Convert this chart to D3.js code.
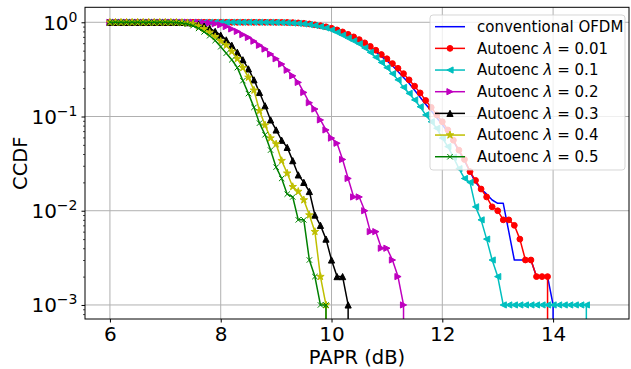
<!DOCTYPE html>
<html>
<head>
<meta charset="utf-8">
<script src="https://cdn.jsdelivr.net/npm/d3@7"></script>
<style>
    html, body { margin: 0; padding: 0; background: #fff; }
    svg { display: block; font-family: "DejaVu Sans", sans-serif; }
</style>
</head>
<body>
<svg id="chart"></svg>
<script>
// PAPR grid (dB), one sample every 0.1 dB
const papr = [
    6.0, 6.1, 6.2, 6.3, 6.4, 6.5, 6.6, 6.7, 6.8, 6.9,
    7.0, 7.1, 7.2, 7.3, 7.4, 7.5, 7.6, 7.7, 7.8, 7.9,
    8.0, 8.1, 8.2, 8.3, 8.4, 8.5, 8.6, 8.7, 8.8, 8.9,
    9.0, 9.1, 9.2, 9.3, 9.4, 9.5, 9.6, 9.7, 9.8, 9.9,
    10.0, 10.1, 10.2, 10.3, 10.4, 10.5, 10.6, 10.7, 10.8, 10.9,
    11.0, 11.1, 11.2, 11.3, 11.4, 11.5, 11.6, 11.7, 11.8, 11.9,
    12.0, 12.1, 12.2, 12.3, 12.4, 12.5, 12.6, 12.7, 12.8, 12.9,
    13.0, 13.1, 13.2, 13.3, 13.4, 13.5, 13.6, 13.7, 13.8, 13.9,
    14.0, 14.1, 14.2, 14.3, 14.4, 14.5, 14.6, 14.7
]

// CCDF values, starting at 6.0 dB; a trailing 0 means the curve drops off the log axis
const ccdfOfdm = [
    1, 1, 1, 1, 1, 1, 1, 1, 1, 1,
    1, 1, 1, 1, 1, 1, 1, 1, 1, 1,
    1, 1, 1, 1, 1, 1, 1, 1, 1, 0.999,
    0.998, 0.996, 0.993, 0.988, 0.98, 0.97, 0.955, 0.935, 0.91, 0.88,
    0.85, 0.81, 0.77, 0.725, 0.68, 0.635, 0.585, 0.535, 0.485, 0.435,
    0.39, 0.345, 0.30, 0.26, 0.225, 0.19, 0.16, 0.135, 0.115, 0.097,
    0.082, 0.068, 0.055, 0.043, 0.034, 0.026, 0.020, 0.017, 0.015, 0.013,
    0.012, 0.012, 0.006, 0.003, 0.003, 0.003, 0.003, 0.002, 0.002, 0.002,
    0.001, 0
]
const ccdfL001 = [
    1, 1, 1, 1, 1, 1, 1, 1, 1, 1,
    1, 1, 1, 1, 1, 1, 1, 1, 1, 1,
    1, 1, 1, 1, 1, 1, 1, 1, 1, 1,
    0.999, 0.998, 0.996, 0.992, 0.985, 0.975, 0.96, 0.94, 0.92, 0.895,
    0.865, 0.83, 0.79, 0.745, 0.70, 0.655, 0.605, 0.555, 0.505, 0.455,
    0.41, 0.365, 0.325, 0.285, 0.245, 0.21, 0.178, 0.148, 0.125, 0.104,
    0.088, 0.072, 0.056, 0.044, 0.035, 0.026, 0.021, 0.017, 0.014, 0.011,
    0.010, 0.008, 0.008, 0.007, 0.005, 0.003, 0.003, 0.002, 0.002, 0.002,
    0
]
const ccdfL01 = [
    1, 1, 1, 1, 1, 1, 1, 1, 1, 1,
    1, 1, 1, 1, 1, 1, 1, 1, 1, 1,
    1, 1, 1, 1, 1, 1, 1, 1, 0.999, 0.998,
    0.996, 0.993, 0.988, 0.981, 0.972, 0.96, 0.945, 0.925, 0.90, 0.87,
    0.83, 0.78, 0.73, 0.68, 0.635, 0.59, 0.535, 0.48, 0.425, 0.375,
    0.33, 0.285, 0.245, 0.204, 0.176, 0.15, 0.127, 0.104, 0.088, 0.075,
    0.059, 0.048, 0.037, 0.028, 0.022, 0.020, 0.011, 0.008, 0.005, 0.003,
    0.002, 0.001, 0.001, 0.001, 0.001, 0.001, 0.001, 0.001, 0.001, 0.001,
    0.001, 0.001, 0.001, 0.001, 0.001, 0.001, 0.001, 0
]
const ccdfL02 = [
    1, 1, 1, 1, 1, 1, 1, 1, 1, 1,
    1, 1, 1, 1, 1, 1, 0.998, 0.993, 0.983, 0.965,
    0.94, 0.90, 0.85, 0.80, 0.74, 0.69, 0.63, 0.57, 0.52, 0.46,
    0.41, 0.36, 0.31, 0.27, 0.23, 0.18, 0.14, 0.12, 0.092, 0.072,
    0.059, 0.052, 0.035, 0.022, 0.014, 0.014, 0.010, 0.006, 0.006, 0.004,
    0.004, 0.003, 0.002, 0.001, 0
]
const ccdfL03 = [
    1, 1, 1, 1, 1, 1, 1, 1, 1, 1,
    1, 1, 1, 0.997, 0.99, 0.975, 0.95, 0.91, 0.86, 0.80,
    0.73, 0.65, 0.57, 0.48, 0.40, 0.32, 0.245, 0.18, 0.13, 0.092,
    0.072, 0.056, 0.047, 0.034, 0.024, 0.020, 0.016, 0.009, 0.007, 0.005,
    0.003, 0.002, 0.002, 0.001, 0
]
const ccdfL04 = [
    1, 1, 1, 1, 1, 1, 1, 1, 1, 1,
    1, 1, 0.998, 0.993, 0.98, 0.96, 0.91, 0.85, 0.78, 0.70,
    0.63, 0.57, 0.49, 0.41, 0.33, 0.26, 0.19, 0.115, 0.081, 0.059,
    0.051, 0.034, 0.025, 0.018, 0.016, 0.013, 0.009, 0.006, 0.002, 0.001,
    0
]
const ccdfL05 = [
    1, 1, 1, 1, 1, 1, 1, 1, 1, 1,
    1, 0.998, 0.993, 0.98, 0.96, 0.92, 0.86, 0.79, 0.72, 0.64,
    0.55, 0.47, 0.40, 0.33, 0.24, 0.175, 0.125, 0.085, 0.064, 0.044,
    0.029, 0.022, 0.015, 0.014, 0.008, 0.008, 0.003, 0.002, 0.001, 0.001,
    0
]

const seriesNames = [
    "conventional OFDM",
    "Autoenc λ = 0.01",
    "Autoenc λ = 0.1",
    "Autoenc λ = 0.2",
    "Autoenc λ = 0.3",
    "Autoenc λ = 0.4",
    "Autoenc λ = 0.5"
]
const seriesValues = [ccdfOfdm, ccdfL001, ccdfL01, ccdfL02, ccdfL03, ccdfL04, ccdfL05]
const seriesColors = ["#0000ff", "#ff0000", "#00bfbf", "#bf00bf", "#000000", "#bfbf00", "#008000"]
const seriesMarkers = ["none", "circle", "triLeft", "triRight", "triUp", "star", "x"]

const xTicks = [6, 8, 10, 12, 14]
const yTicks = [1, 0.1, 0.01, 0.001]

const width = 631
const height = 369
const plot = { left: 85, top: 7.3, right: 629, bottom: 319 }
const gridColor = "#b0b0b0"

const svg = d3.select("#chart").attr("width", width).attr("height", height)

const x = d3.scaleLinear().domain([5.55, 15.37]).range([plot.left, plot.right])
const y = d3
    .scaleLog()
    .domain([Math.pow(10, 0.159), Math.pow(10, -3.149)])
    .range([plot.top, plot.bottom])

svg.append("defs")
    .append("clipPath")
    .attr("id", "plotClip")
    .append("rect")
    .attr("x", plot.left)
    .attr("y", plot.top)
    .attr("width", plot.right - plot.left)
    .attr("height", plot.bottom - plot.top)

// grid
const grid = svg.append("g").attr("stroke", gridColor).attr("stroke-width", 1)
grid.selectAll("line.vx")
    .data(xTicks)
    .enter()
    .append("line")
    .attr("x1", (d) => x(d))
    .attr("x2", (d) => x(d))
    .attr("y1", plot.top)
    .attr("y2", plot.bottom)
grid.selectAll("line.hy")
    .data(yTicks)
    .enter()
    .append("line")
    .attr("x1", plot.left)
    .attr("x2", plot.right)
    .attr("y1", (d) => y(d))
    .attr("y2", (d) => y(d))

// marker shapes (matplotlib look-alikes)
const markerShape = (g, kind, color) => {
    const h = 3.1
    if (kind === "circle") {
        g.append("circle").attr("r", 2.9).attr("fill", color).attr("stroke", color).attr("stroke-width", 1)
        return
    }
    let d = null
    if (kind === "triUp") d = `M0,${-h}L${-h},${h}L${h},${h}Z`
    if (kind === "triLeft") d = `M${-h},0L${h},${-h}L${h},${h}Z`
    if (kind === "triRight") d = `M${h},0L${-h},${-h}L${-h},${h}Z`
    if (kind === "star") {
        const pts = []
        for (let k = 0; k < 10; k++) {
            const r = k % 2 === 0 ? 3.9 : 3.9 * 0.381966
            const a = (k * Math.PI) / 5
            pts.push([r * Math.sin(a), -r * Math.cos(a)])
        }
        d = "M" + pts.map((p) => p.join(",")).join("L") + "Z"
    }
    if (kind === "x") {
        const s = 2.7
        g.append("path")
            .attr("d", `M${-s},${-s}L${s},${s}M${-s},${s}L${s},${-s}`)
            .attr("fill", "none")
            .attr("stroke", color)
            .attr("stroke-width", 1)
        return
    }
    if (d) g.append("path").attr("d", d).attr("fill", color).attr("stroke", color).attr("stroke-width", 1).attr("stroke-linejoin", "miter")
}

// curves
const curves = svg.append("g").attr("clip-path", "url(#plotClip)")
const line = d3
    .line()
    .x((p) => x(p.papr))
    .y((p) => y(p.ccdf))

seriesValues.forEach((values, i) => {
    const pts = values
        .map((v, k) => ({ papr: papr[k], ccdf: v }))
        .filter((p) => p.ccdf > 0)
    const last = pts[pts.length - 1]
    let d = line(pts)
    if (values[values.length - 1] === 0) d += `L${x(last.papr)},${plot.bottom + 20}`

    const g = curves.append("g")
    g.append("path")
        .attr("d", d)
        .attr("fill", "none")
        .attr("stroke", seriesColors[i])
        .attr("stroke-width", 1.5)
        .attr("stroke-linejoin", "round")

    if (seriesMarkers[i] !== "none") {
        g.selectAll("g.m")
            .data(pts)
            .enter()
            .append("g")
            .attr("transform", (p) => `translate(${x(p.papr)},${y(p.ccdf)})`)
            .each(function () {
                markerShape(d3.select(this), seriesMarkers[i], seriesColors[i])
            })
    }
})

// frame
svg.append("rect")
    .attr("x", plot.left)
    .attr("y", plot.top)
    .attr("width", plot.right - plot.left)
    .attr("height", plot.bottom - plot.top)
    .attr("fill", "none")
    .attr("stroke", "#000")
    .attr("stroke-width", 1)

// axes
const xAxis = svg
    .append("g")
    .attr("transform", `translate(0,${plot.bottom})`)
    .call(d3.axisBottom(x).tickValues(xTicks).tickSize(3.5).tickSizeOuter(0).tickPadding(4).tickFormat(d3.format("d")))
xAxis.select(".domain").remove()
xAxis.selectAll(".tick text").attr("font-size", 20).attr("font-family", "DejaVu Sans").attr("fill", "#000")

const yMinor = y.ticks().filter((v) => Math.abs(Math.log10(v) - Math.round(Math.log10(v))) > 1e-6)
const yMinorAxis = svg
    .append("g")
    .attr("transform", `translate(${plot.left},0)`)
    .call(d3.axisLeft(y).tickValues(yMinor).tickSize(2).tickSizeOuter(0).tickFormat(""))
yMinorAxis.select(".domain").remove()
yMinorAxis.selectAll(".tick line").attr("stroke-width", 0.7)

const yAxis = svg
    .append("g")
    .attr("transform", `translate(${plot.left},0)`)
    .call(d3.axisLeft(y).tickValues(yTicks).tickSize(3.5).tickSizeOuter(0).tickPadding(4))
yAxis.select(".domain").remove()
yAxis.selectAll(".tick text").each(function (d) {
    const exp = Math.round(Math.log10(d))
    const t = d3.select(this).text("").attr("font-size", 20).attr("font-family", "DejaVu Sans").attr("fill", "#000").attr("dy", "0.35em")
    t.append("tspan").text("10")
    t.append("tspan").attr("dy", -8).attr("font-size", 14).text(exp < 0 ? "\u2212" + -exp : String(exp))
})

// axis labels
svg.append("text")
    .attr("x", (plot.left + plot.right) / 2)
    .attr("y", 364)
    .attr("text-anchor", "middle")
    .attr("font-size", 19.5)
    .text("PAPR (dB)")
svg.append("text")
    .attr("transform", `translate(27,${(plot.top + plot.bottom) / 2}) rotate(-90)`)
    .attr("text-anchor", "middle")
    .attr("font-size", 19.5)
    .text("CCDF")

// legend
const legend = svg.append("g")
legend.append("rect")
    .attr("x", 430)
    .attr("y", 15)
    .attr("width", 195)
    .attr("height", 155)
    .attr("rx", 3)
    .attr("fill", "#fff")
    .attr("fill-opacity", 0.8)
    .attr("stroke", "#ccc")
    .attr("stroke-opacity", 0.8)

seriesNames.forEach((name, i) => {
    const cy = 26.7 + i * 21.67
    const row = legend.append("g")
    row.append("line")
        .attr("x1", 435)
        .attr("x2", 465)
        .attr("y1", cy)
        .attr("y2", cy)
        .attr("stroke", seriesColors[i])
        .attr("stroke-width", 1.5)
    if (seriesMarkers[i] !== "none") {
        const m = row.append("g").attr("transform", `translate(450,${cy})`)
        markerShape(m, seriesMarkers[i], seriesColors[i])
    }
    const t = row.append("text").attr("x", 477).attr("y", cy + 5.3).attr("font-size", 15)
    if (name.includes("λ")) {
        const parts = name.split("λ")
        t.append("tspan").text(parts[0])
        t.append("tspan").attr("font-style", "italic").text("λ")
        t.append("tspan").text(parts[1])
    } else {
        t.text(name)
    }
})
</script>
</body>
</html>
